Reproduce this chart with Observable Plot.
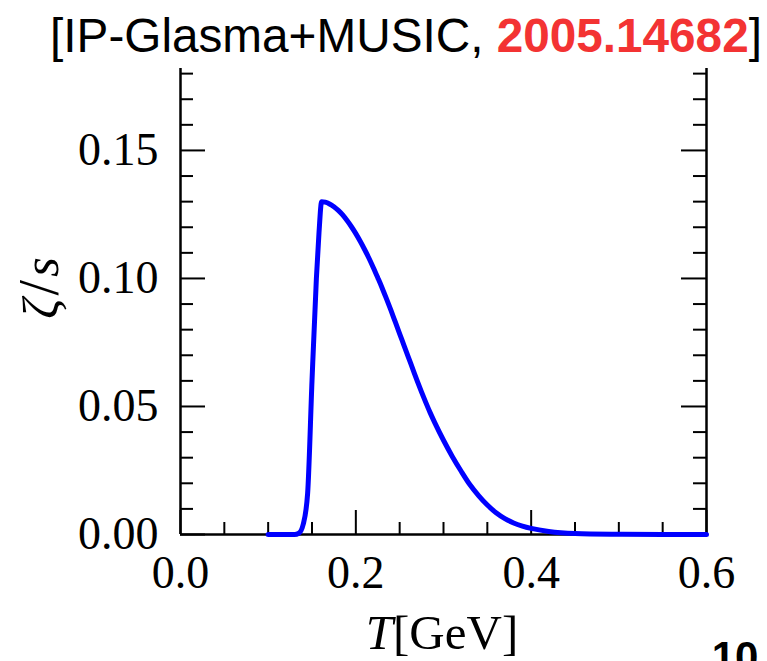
<!DOCTYPE html>
<html>
<head>
<meta charset="utf-8">
<script src="https://cdn.jsdelivr.net/npm/d3@7"></script>
<script src="https://cdn.jsdelivr.net/npm/@observablehq/plot@0.6"></script>
<style>
  html, body { margin: 0; padding: 0; background: #fff; overflow: hidden; }
  #chart { width: 767px; height: 661px; }
</style>
</head>
<body>
<div id="chart"></div>
<script>
// Temperature T [GeV]
const T = [0.10, 0.13, 0.135, 0.14, 0.145, 0.15, 0.155, 0.158, 0.161, 0.165, 0.17, 0.175, 0.18, 0.185, 0.19, 0.195, 0.20,
           0.205, 0.21, 0.215, 0.22, 0.225, 0.23, 0.235, 0.24, 0.245, 0.25, 0.255, 0.26, 0.265, 0.27, 0.275, 0.28, 0.285,
           0.29, 0.30, 0.31, 0.32, 0.33, 0.34, 0.35, 0.36, 0.37, 0.38, 0.39, 0.40, 0.42, 0.45, 0.50, 0.55, 0.60];
// bulk viscosity to entropy density ratio zeta/s
const zetaS = [0.0, 0.0, 0.0005, 0.004, 0.016, 0.060, 0.100, 0.118, 0.1300, 0.1298, 0.1291, 0.1280, 0.1266, 0.1248, 0.1226, 0.1202, 0.1175,
               0.1145, 0.1113, 0.1079, 0.1042, 0.1003, 0.0963, 0.0920, 0.0876, 0.0830, 0.0784, 0.0738, 0.0692, 0.0646, 0.0600, 0.0556, 0.0514, 0.0474,
               0.0437, 0.0368, 0.0305, 0.0248, 0.0195, 0.0152, 0.0115, 0.0085, 0.0062, 0.0045, 0.0033, 0.0024, 0.0012, 0.0004, 0.0001, 0.0, 0.0];

const xMajor = [0.0, 0.2, 0.4, 0.6];
const xMinor = [0.05, 0.1, 0.15, 0.25, 0.3, 0.35, 0.45, 0.5, 0.55];
const yMajor = [0.00, 0.05, 0.10, 0.15];
const yMinor = [0.01, 0.02, 0.03, 0.04, 0.06, 0.07, 0.08, 0.09, 0.11, 0.12, 0.13, 0.14, 0.16, 0.17, 0.18];

const titleText = "[IP-Glasma+MUSIC, ";
const titleRef = "2005.14682";
const titleEnd = "]";
const xLabelVar = "T";
const xLabelUnit = "[GeV]";
const yLabel = ["ζ", "/", "s"];
const cornerText = "10";

const data = T.map((t, i) => ({T: t, z: zetaS[i]}));

const W = 767, H = 661;
const mL = 180, mR = 61, mT = 68, mB = 127;
const frameW = W - mL - mR, frameH = H - mT - mB;
const serif = "'Liberation Serif', 'DejaVu Serif', serif";

const chart = Plot.plot({
  width: W, height: H,
  marginLeft: mL, marginRight: mR, marginTop: mT, marginBottom: mB,
  x: {domain: [0, 0.6]},
  y: {domain: [0, 0.182]},
  style: {fontFamily: serif, fontSize: "46px", color: "black", background: "white", overflow: "hidden"},
  marks: [
    Plot.axisX({ticks: xMajor, tickSize: 0, tickPadding: 21, tickFormat: d3.format(".1f"), label: null, fontSize: 46, fontFamily: serif}),
    Plot.axisY({ticks: yMajor, tickSize: 0, tickPadding: 22, tickFormat: d3.format(".2f"), label: null, fontSize: 46, fontFamily: serif}),
    // bottom ticks (inward)
    Plot.tickX(xMinor, {x: d => d, insetTop: frameH - 12, stroke: "black", strokeWidth: 2}),
    Plot.tickX(xMajor, {x: d => d, insetTop: frameH - 24, stroke: "black", strokeWidth: 2}),
    // left ticks
    Plot.tickY(yMinor, {y: d => d, insetRight: frameW - 13, stroke: "black", strokeWidth: 2}),
    Plot.tickY(yMajor, {y: d => d, insetRight: frameW - 25, stroke: "black", strokeWidth: 2}),
    // right ticks
    Plot.tickY(yMinor, {y: d => d, insetLeft: frameW - 13, stroke: "black", strokeWidth: 2}),
    Plot.tickY(yMajor, {y: d => d, insetLeft: frameW - 25, stroke: "black", strokeWidth: 2}),
    // frame lines (no top edge)
    Plot.ruleX([0, 0.6], {stroke: "black", strokeWidth: 2.5}),
    Plot.ruleY([0], {stroke: "black", strokeWidth: 2.5}),
    Plot.line(data, {x: "T", y: "z", stroke: "#0000ff", strokeWidth: 5, curve: "monotone-x", strokeLinejoin: "round"})
  ]
});

document.getElementById("chart").appendChild(chart);
const svg = d3.select(chart);

// Title (condensed horizontally to match the narrow face of the reference)
const tg = svg.append("g");
const title = tg.append("text")
  .attr("x", 0).attr("y", 0)
  .attr("font-family", "'Liberation Sans', Arial, sans-serif")
  .attr("font-size", 48)
  .attr("fill", "black");
title.append("tspan").text(titleText);
title.append("tspan").attr("fill", "#f33333").attr("font-weight", "bold").text(titleRef);
title.append("tspan").text(titleEnd);
const bb = title.node().getBBox();
const sx = 712 / bb.width;
tg.attr("transform", `translate(${50 - bb.x * sx},52) scale(${sx},1)`);

// x label
const xl = svg.append("text")
  .attr("x", 442).attr("y", 649)
  .attr("text-anchor", "middle")
  .attr("font-family", serif).attr("font-size", 49).attr("fill", "black");
xl.append("tspan").attr("font-style", "italic").text(xLabelVar);
xl.append("tspan").text(xLabelUnit);

// y label
const yl = svg.append("text")
  .attr("transform", "translate(58,288) rotate(-90)")
  .attr("text-anchor", "middle")
  .attr("font-family", serif).attr("font-size", 50).attr("fill", "black");
yl.append("tspan").attr("font-style", "italic").text(yLabel[0]);
yl.append("tspan").attr("font-size", 56).attr("dx", 3).text(yLabel[1]);
yl.append("tspan").attr("font-style", "italic").attr("dx", 3).text(yLabel[2]);

// partial page number in corner (cut off by the edge, as in the reference)
svg.append("text")
  .attr("x", 735).attr("y", 671)
  .attr("font-family", "'Liberation Sans', sans-serif").attr("font-weight", "bold")
  .attr("font-size", 42).attr("fill", "black")
  .text(cornerText);
</script>
</body>
</html>
